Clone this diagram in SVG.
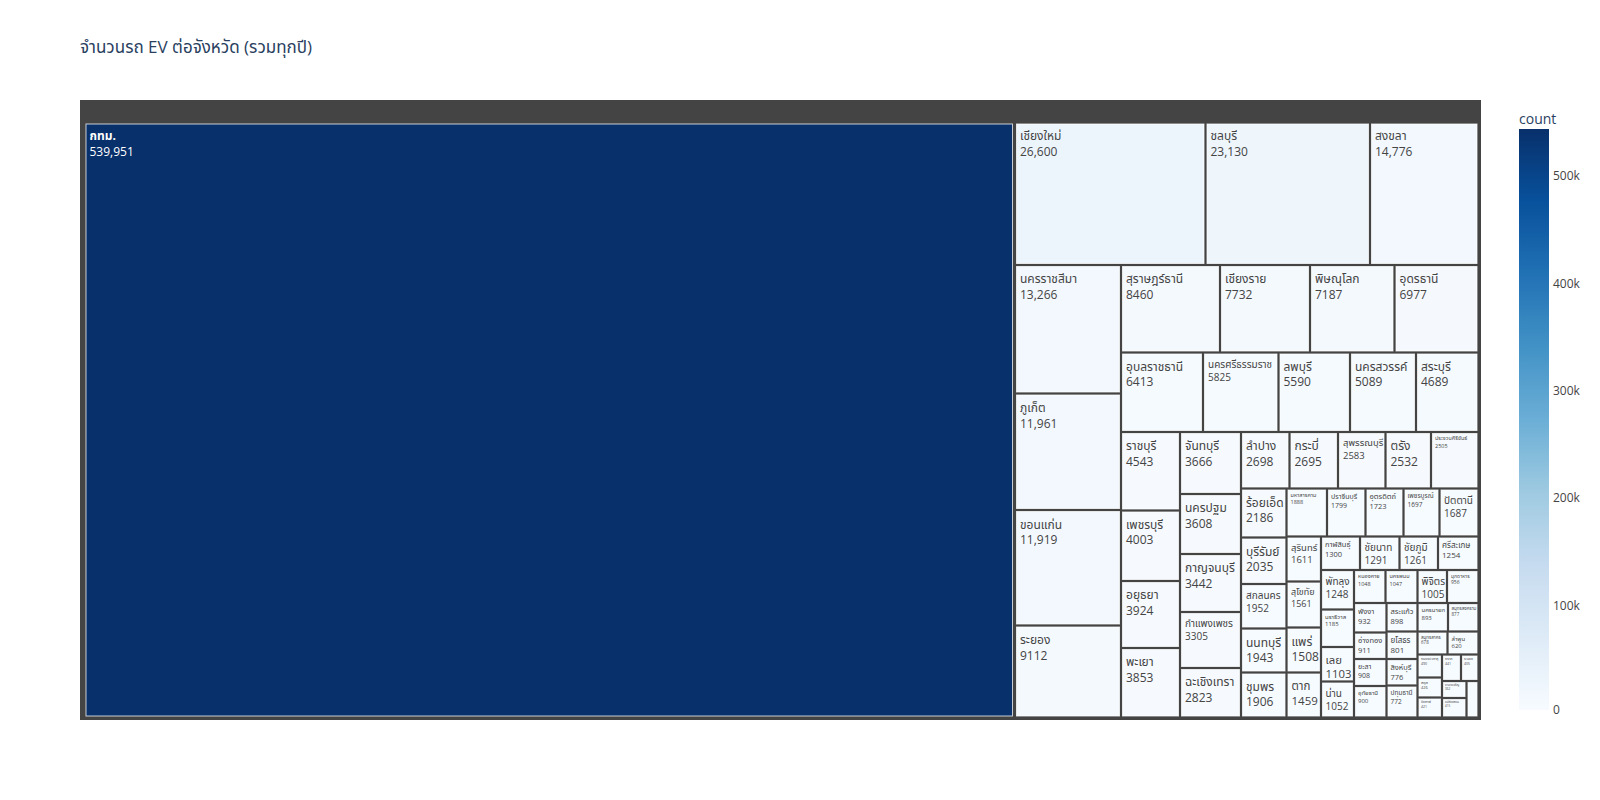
<svg xmlns="http://www.w3.org/2000/svg" width="1600" height="800" viewBox="0 0 1600 800">
<defs>
<linearGradient id="blues" x1="0" y1="1" x2="0" y2="0">
<stop offset="0" stop-color="#f7fbff"/><stop offset="0.125" stop-color="#deebf7"/><stop offset="0.25" stop-color="#c6dbef"/><stop offset="0.375" stop-color="#9ecae1"/><stop offset="0.5" stop-color="#6baed6"/><stop offset="0.625" stop-color="#4292c6"/><stop offset="0.75" stop-color="#2171b5"/><stop offset="0.875" stop-color="#08519c"/><stop offset="1" stop-color="#08306b"/>
</linearGradient>
<style>
text{font-family:"Open Sans","Noto Sans Thai","Noto Sans","DejaVu Sans",sans-serif;}
.tile{stroke:#ffffff;stroke-width:1;stroke-opacity:0.75;}
.lbl{fill:#444444;}
.w{fill:#ffffff;}
.title{fill:#2a3f5f;}
.tick{fill:#444444;}
</style>
</defs>
<rect width="1600" height="800" fill="#ffffff"/>
<text class="title" x="80" y="53" font-size="17">จำนวนรถ EV ต่อจังหวัด (รวมทุกปี)</text>
<g id="treemap" font-size="12">
<rect id="root" x="80" y="100" width="1401" height="620" fill="#444444"/>
<g id="n01"><rect class="tile" x="86" y="124" width="926.5" height="592" fill="#08306b"/><text class="lbl w" x="89.5" y="140"><tspan font-weight="bold">กทม.</tspan><tspan x="89.5" dy="1.3em">539,951</tspan></text></g>
<g id="n02"><rect class="tile" x="1016.5" y="124" width="187.5" height="139.5" fill="#edf5fc"/><text class="lbl" x="1020" y="140">เชียงใหม่<tspan x="1020" dy="1.3em">26,600</tspan></text></g>
<g id="n03"><rect class="tile" x="1207" y="124" width="161.5" height="139.5" fill="#eef6fc"/><text class="lbl" x="1210.5" y="140">ชลบุรี<tspan x="1210.5" dy="1.3em">23,130</tspan></text></g>
<g id="n04"><rect class="tile" x="1371.5" y="124" width="105.5" height="139.5" fill="#f2f8fd"/><text class="lbl" x="1375" y="140">สงขลา<tspan x="1375" dy="1.3em">14,776</tspan></text></g>
<g id="n05"><rect class="tile" x="1016.5" y="266.5" width="103" height="125.5" fill="#f2f8fd"/><text class="lbl" x="1020" y="283">นครราชสีมา<tspan x="1020" dy="1.3em">13,266</tspan></text></g>
<g id="n06"><rect class="tile" x="1016.5" y="395" width="103" height="113.5" fill="#f3f8fe"/><text class="lbl" x="1020" y="412">ภูเก็ต<tspan x="1020" dy="1.3em">11,961</tspan></text></g>
<g id="n07"><rect class="tile" x="1016.5" y="511.5" width="103" height="112.5" fill="#f3f8fe"/><text class="lbl" x="1020" y="528.5">ขอนแก่น<tspan x="1020" dy="1.3em">11,919</tspan></text></g>
<g id="n08"><rect class="tile" x="1016.5" y="627" width="103" height="89" fill="#f4f9fe"/><text class="lbl" x="1020" y="644">ระยอง<tspan x="1020" dy="1.3em">9112</tspan></text></g>
<g id="n09"><rect class="tile" x="1122.5" y="266.5" width="96" height="84.5" fill="#f4f9fe"/><text class="lbl" x="1126" y="283">สุราษฎร์ธานี<tspan x="1126" dy="1.3em">8460</tspan></text></g>
<g id="n10"><rect class="tile" x="1221.5" y="266.5" width="87" height="84.5" fill="#f4f9fe"/><text class="lbl" x="1225" y="283">เชียงราย<tspan x="1225" dy="1.3em">7732</tspan></text></g>
<g id="n11"><rect class="tile" x="1311.5" y="266.5" width="81.5" height="84.5" fill="#f4f9fe"/><text class="lbl" x="1315" y="283">พิษณุโลก<tspan x="1315" dy="1.3em">7187</tspan></text></g>
<g id="n12"><rect class="tile" x="1396" y="266.5" width="81" height="84.5" fill="#f5f9fe"/><text class="lbl" x="1399.5" y="283">อุดรธานี<tspan x="1399.5" dy="1.3em">6977</tspan></text></g>
<g id="n13"><rect class="tile" x="1122.5" y="354" width="79" height="76.5" fill="#f5fafe"/><text class="lbl" x="1126" y="370.5">อุบลราชธานี<tspan x="1126" dy="1.3em">6413</tspan></text></g>
<g id="n14"><rect class="tile" x="1204.5" y="354" width="72.5" height="76.5" fill="#f5fafe"/><text class="lbl" x="1208" y="367.5" font-size="10">นครศรีธรรมราช<tspan x="1208" dy="1.3em">5825</tspan></text></g>
<g id="n15"><rect class="tile" x="1280" y="354" width="68.5" height="76.5" fill="#f5fafe"/><text class="lbl" x="1283.5" y="370.5">ลพบุรี<tspan x="1283.5" dy="1.3em">5590</tspan></text></g>
<g id="n16"><rect class="tile" x="1351.5" y="354" width="63" height="76.5" fill="#f5fafe"/><text class="lbl" x="1355" y="370.5">นครสวรรค์<tspan x="1355" dy="1.3em">5089</tspan></text></g>
<g id="n17"><rect class="tile" x="1417.5" y="354" width="59.5" height="76.5" fill="#f5fafe"/><text class="lbl" x="1421" y="370.5">สระบุรี<tspan x="1421" dy="1.3em">4689</tspan></text></g>
<g id="n18"><rect class="tile" x="1122.5" y="433.5" width="56" height="75.5" fill="#f6fafe"/><text class="lbl" x="1126" y="450">ราชบุรี<tspan x="1126" dy="1.3em">4543</tspan></text></g>
<g id="n19"><rect class="tile" x="1122.5" y="512" width="56" height="67.5" fill="#f6fafe"/><text class="lbl" x="1126" y="528.5">เพชรบุรี<tspan x="1126" dy="1.3em">4003</tspan></text></g>
<g id="n20"><rect class="tile" x="1122.5" y="582.5" width="56" height="64" fill="#f6fafe"/><text class="lbl" x="1126" y="599">อยุธยา<tspan x="1126" dy="1.3em">3924</tspan></text></g>
<g id="n21"><rect class="tile" x="1122.5" y="649.5" width="56" height="66.5" fill="#f6fafe"/><text class="lbl" x="1126" y="666">พะเยา<tspan x="1126" dy="1.3em">3853</tspan></text></g>
<g id="n22"><rect class="tile" x="1181.5" y="433.5" width="58" height="59" fill="#f6fafe"/><text class="lbl" x="1185" y="450">จันทบุรี<tspan x="1185" dy="1.3em">3666</tspan></text></g>
<g id="n23"><rect class="tile" x="1181.5" y="495.5" width="58" height="57" fill="#f6fafe"/><text class="lbl" x="1185" y="512">นครปฐม<tspan x="1185" dy="1.3em">3608</tspan></text></g>
<g id="n24"><rect class="tile" x="1181.5" y="555.5" width="58" height="55" fill="#f6fafe"/><text class="lbl" x="1185" y="572">กาญจนบุรี<tspan x="1185" dy="1.3em">3442</tspan></text></g>
<g id="n25"><rect class="tile" x="1181.5" y="613.5" width="58" height="53" fill="#f6fafe"/><text class="lbl" x="1185" y="627" font-size="10">กำแพงเพชร<tspan x="1185" dy="1.3em">3305</tspan></text></g>
<g id="n26"><rect class="tile" x="1181.5" y="669.5" width="58" height="46.5" fill="#f6fafe"/><text class="lbl" x="1185" y="686">ฉะเชิงเทรา<tspan x="1185" dy="1.3em">2823</tspan></text></g>
<g id="n27"><rect class="tile" x="1242.5" y="433.5" width="45.5" height="53.5" fill="#f6fafe"/><text class="lbl" x="1246" y="450">ลำปาง<tspan x="1246" dy="1.3em">2698</tspan></text></g>
<g id="n28"><rect class="tile" x="1291" y="433.5" width="45.5" height="53.5" fill="#f6fafe"/><text class="lbl" x="1294.5" y="450">กระบี่<tspan x="1294.5" dy="1.3em">2695</tspan></text></g>
<g id="n29"><rect class="tile" x="1339.5" y="433.5" width="44.5" height="53.5" fill="#f6fafe"/><text class="lbl" x="1343" y="446.4" font-size="9.5">สุพรรณบุรี<tspan x="1343" dy="1.3em">2583</tspan></text></g>
<g id="n30"><rect class="tile" x="1387" y="433.5" width="42.5" height="53.5" fill="#f6fafe"/><text class="lbl" x="1390.5" y="450">ตรัง<tspan x="1390.5" dy="1.3em">2532</tspan></text></g>
<g id="n31"><rect class="tile" x="1432.5" y="433.5" width="44.5" height="53.5" fill="#f6fafe"/><text class="lbl" x="1435" y="440.4" font-size="5.5">ประจวบคีรีขันธ์<tspan x="1435" dy="1.3em">2505</tspan></text></g>
<g id="n32"><rect class="tile" x="1242.5" y="490" width="42.5" height="46" fill="#f6fafe"/><text class="lbl" x="1246" y="506.5">ร้อยเอ็ด<tspan x="1246" dy="1.3em">2186</tspan></text></g>
<g id="n33"><rect class="tile" x="1242.5" y="539" width="42.5" height="43.5" fill="#f6fafe"/><text class="lbl" x="1246" y="555.5">บุรีรัมย์<tspan x="1246" dy="1.3em">2035</tspan></text></g>
<g id="n34"><rect class="tile" x="1242.5" y="585.5" width="42.5" height="41.5" fill="#f6fbff"/><text class="lbl" x="1246" y="599" font-size="10">สกลนคร<tspan x="1246" dy="1.3em">1952</tspan></text></g>
<g id="n35"><rect class="tile" x="1242.5" y="630" width="42.5" height="41" fill="#f6fbff"/><text class="lbl" x="1246" y="646.5">นนทบุรี<tspan x="1246" dy="1.3em">1943</tspan></text></g>
<g id="n36"><rect class="tile" x="1242.5" y="674" width="42.5" height="42" fill="#f6fbff"/><text class="lbl" x="1246" y="690.5">ชุมพร<tspan x="1246" dy="1.3em">1906</tspan></text></g>
<g id="n37"><rect class="tile" x="1288" y="490" width="37.5" height="45" fill="#f6fbff"/><text class="lbl" x="1290.5" y="496.9" font-size="5.5">มหาสารคาม<tspan x="1290.5" dy="1.3em">1888</tspan></text></g>
<g id="n38"><rect class="tile" x="1328.5" y="490" width="35.5" height="45" fill="#f6fbff"/><text class="lbl" x="1331" y="498.8" font-size="7">ปราจีนบุรี<tspan x="1331" dy="1.3em">1799</tspan></text></g>
<g id="n39"><rect class="tile" x="1367" y="490" width="35" height="45" fill="#f6fbff"/><text class="lbl" x="1369.5" y="499.4" font-size="7.5">อุตรดิตถ์<tspan x="1369.5" dy="1.3em">1723</tspan></text></g>
<g id="n40"><rect class="tile" x="1405" y="490" width="33" height="45" fill="#f6fbff"/><text class="lbl" x="1407.5" y="498.1" font-size="6.5">เพชรบูรณ์<tspan x="1407.5" dy="1.3em">1697</tspan></text></g>
<g id="n41"><rect class="tile" x="1441" y="490" width="36" height="45" fill="#f6fbff"/><text class="lbl" x="1444" y="503.5" font-size="10">ปัตตานี<tspan x="1444" dy="1.3em">1687</tspan></text></g>
<g id="n42"><rect class="tile" x="1288" y="538" width="31.5" height="42" fill="#f6fbff"/><text class="lbl" x="1291" y="550.9" font-size="9.5">สุรินทร์<tspan x="1291" dy="1.3em">1611</tspan></text></g>
<g id="n43"><rect class="tile" x="1288" y="583" width="31.5" height="43" fill="#f6fbff"/><text class="lbl" x="1291" y="595.3" font-size="9">สุโขทัย<tspan x="1291" dy="1.3em">1561</tspan></text></g>
<g id="n44"><rect class="tile" x="1288" y="629" width="31.5" height="42" fill="#f6fbff"/><text class="lbl" x="1291.5" y="645.5">แพร่<tspan x="1291.5" dy="1.3em">1508</tspan></text></g>
<g id="n45"><rect class="tile" x="1288" y="674" width="31.5" height="42" fill="#f6fbff"/><text class="lbl" x="1291.5" y="689.8" font-size="11.5">ตาก<tspan x="1291.5" dy="1.3em">1459</tspan></text></g>
<g id="n46"><rect class="tile" x="1322.5" y="538" width="36" height="30.5" fill="#f6fbff"/><text class="lbl" x="1325" y="547.4" font-size="7.5">กาฬสินธุ์<tspan x="1325" dy="1.3em">1300</tspan></text></g>
<g id="n47"><rect class="tile" x="1361.5" y="538" width="36.5" height="30.5" fill="#f6fbff"/><text class="lbl" x="1364.5" y="551" font-size="10">ชัยนาท<tspan x="1364.5" dy="1.3em">1291</tspan></text></g>
<g id="n48"><rect class="tile" x="1401" y="538" width="35.5" height="30.5" fill="#f6fbff"/><text class="lbl" x="1404" y="551" font-size="10">ชัยภูมิ<tspan x="1404" dy="1.3em">1261</tspan></text></g>
<g id="n49"><rect class="tile" x="1439.5" y="538" width="37.5" height="30.5" fill="#f6fbff"/><text class="lbl" x="1442" y="548" font-size="8">ศรีสะเกษ<tspan x="1442" dy="1.3em">1254</tspan></text></g>
<g id="n50"><rect class="tile" x="1322.5" y="571.5" width="30" height="36.5" fill="#f6fbff"/><text class="lbl" x="1325.5" y="585" font-size="10">พัทลุง<tspan x="1325.5" dy="1.3em">1248</tspan></text></g>
<g id="n51"><rect class="tile" x="1322.5" y="611" width="30" height="34.5" fill="#f6fbff"/><text class="lbl" x="1325" y="618.5" font-size="6">นราธิวาส<tspan x="1325" dy="1.3em">1185</tspan></text></g>
<g id="n52"><rect class="tile" x="1322.5" y="648.5" width="30" height="31.5" fill="#f6fbff"/><text class="lbl" x="1325.5" y="663.5" font-size="11.3">เลย<tspan x="1325.5" dy="1.3em">1103</tspan></text></g>
<g id="n53"><rect class="tile" x="1322.5" y="683" width="30" height="33" fill="#f6fbff"/><text class="lbl" x="1325.5" y="696.5" font-size="10">น่าน<tspan x="1325.5" dy="1.3em">1052</tspan></text></g>
<g id="n54"><rect class="tile" x="1355.5" y="571.5" width="28.5" height="30" fill="#f6fbff"/><text class="lbl" x="1358" y="578.4" font-size="5.5">หนองคาย<tspan x="1358" dy="1.3em">1048</tspan></text></g>
<g id="n55"><rect class="tile" x="1387" y="571.5" width="29" height="30" fill="#f6fbff"/><text class="lbl" x="1389.5" y="578.4" font-size="5.5">นครพนม<tspan x="1389.5" dy="1.3em">1047</tspan></text></g>
<g id="n56"><rect class="tile" x="1419" y="571.5" width="26.5" height="30" fill="#f6fbff"/><text class="lbl" x="1421.5" y="585" font-size="10">พิจิตร<tspan x="1421.5" dy="1.3em">1005</tspan></text></g>
<g id="n57"><rect class="tile" x="1448.5" y="571.5" width="28.5" height="30" fill="#f6fbff"/><text class="lbl" x="1451" y="577.8" font-size="5">มุกดาหาร<tspan x="1451" dy="1.3em">956</tspan></text></g>
<g id="n58"><rect class="tile" x="1355.5" y="604.5" width="29.5" height="26.5" fill="#f6fbff"/><text class="lbl" x="1358" y="613.9" font-size="7.5">พังงา<tspan x="1358" dy="1.3em">932</tspan></text></g>
<g id="n59"><rect class="tile" x="1355.5" y="634" width="29.5" height="23.5" fill="#f6fbff"/><text class="lbl" x="1358" y="643.4" font-size="7.5">อ่างทอง<tspan x="1358" dy="1.3em">911</tspan></text></g>
<g id="n60"><rect class="tile" x="1355.5" y="660.5" width="29.5" height="24" fill="#f6fbff"/><text class="lbl" x="1358" y="669.3" font-size="7">ยะลา<tspan x="1358" dy="1.3em">908</tspan></text></g>
<g id="n61"><rect class="tile" x="1355.5" y="687.5" width="29.5" height="28.5" fill="#f6fbff"/><text class="lbl" x="1358" y="695" font-size="6">อุทัยธานี<tspan x="1358" dy="1.3em">900</tspan></text></g>
<g id="n62"><rect class="tile" x="1388" y="604.5" width="28" height="25.5" fill="#f6fbff"/><text class="lbl" x="1390.5" y="613.9" font-size="7.5">สระแก้ว<tspan x="1390.5" dy="1.3em">898</tspan></text></g>
<g id="n63"><rect class="tile" x="1419" y="604.5" width="27.5" height="25.5" fill="#f6fbff"/><text class="lbl" x="1421.5" y="612" font-size="6">นครนายก<tspan x="1421.5" dy="1.3em">893</tspan></text></g>
<g id="n64"><rect class="tile" x="1449.5" y="604.5" width="27.5" height="25.5" fill="#f6fbff"/><text class="lbl" x="1451.5" y="610.1" font-size="4.5">สมุทรสงคราม<tspan x="1451.5" dy="1.3em">877</tspan></text></g>
<g id="n65"><rect class="tile" x="1388" y="633" width="28" height="24.5" fill="#f6fbff"/><text class="lbl" x="1390.5" y="643" font-size="8">ยโสธร<tspan x="1390.5" dy="1.3em">801</tspan></text></g>
<g id="n66"><rect class="tile" x="1388" y="660.5" width="28" height="23.5" fill="#f6fbff"/><text class="lbl" x="1390.5" y="669.9" font-size="7.5">สิงห์บุรี<tspan x="1390.5" dy="1.3em">776</tspan></text></g>
<g id="n67"><rect class="tile" x="1388" y="687" width="28" height="29" fill="#f6fbff"/><text class="lbl" x="1390.5" y="695.1" font-size="6.5">ปทุมธานี<tspan x="1390.5" dy="1.3em">772</tspan></text></g>
<g id="n68"><rect class="tile" x="1419" y="633" width="27" height="20" fill="#f6fbff"/><text class="lbl" x="1421" y="638.6" font-size="4.5">สมุทรสาคร<tspan x="1421" dy="1.3em">678</tspan></text></g>
<g id="n69"><rect class="tile" x="1449" y="633" width="28" height="20" fill="#f6fbff"/><text class="lbl" x="1451.5" y="640.5" font-size="6">ลำพูน<tspan x="1451.5" dy="1.3em">620</tspan></text></g>
<g id="n70"><rect class="tile" x="1419" y="656" width="21.5" height="20" fill="#f6fbff"/><text class="lbl" x="1421" y="660.4" font-size="3.5">หนองบัวลำภู<tspan x="1421" dy="1.3em">490</tspan></text></g>
<g id="n71"><rect class="tile" x="1443.5" y="656" width="16" height="23.5" fill="#f6fbff"/><text class="lbl" x="1445" y="660.4" font-size="3.5">ตราด<tspan x="1445" dy="1.3em">441</tspan></text></g>
<g id="n72"><rect class="tile" x="1462.5" y="656" width="14.5" height="23.5" fill="#f6fbff"/><text class="lbl" x="1464" y="660.4" font-size="3.5">ระนอง<tspan x="1464" dy="1.3em">405</tspan></text></g>
<g id="n73"><rect class="tile" x="1419" y="679" width="21.5" height="17" fill="#f6fbff"/><text class="lbl" x="1421" y="684" font-size="4">สตูล<tspan x="1421" dy="1.3em">426</tspan></text></g>
<g id="n74"><rect class="tile" x="1419" y="699" width="21.5" height="17" fill="#f6fbff"/><text class="lbl" x="1421" y="703.4" font-size="3.5">บึงกาฬ<tspan x="1421" dy="1.3em">421</tspan></text></g>
<g id="n75"><rect class="tile" x="1443.5" y="682.5" width="21.5" height="14" fill="#f6fbff"/><text class="lbl" x="1445" y="686.3" font-size="3">อำนาจเจริญ<tspan x="1445" dy="1.3em">362</tspan></text></g>
<g id="n76"><rect class="tile" x="1443.5" y="699.5" width="21.5" height="16.5" fill="#f6fbff"/><text class="lbl" x="1445" y="703.3" font-size="3">แม่ฮ่องสอน<tspan x="1445" dy="1.3em">415</tspan></text></g>
<g id="n77"><rect class="tile" x="1468" y="682.5" width="9" height="33.5" fill="#f6fbff"/></g>
</g>
<g id="connectors"></g>
<g id="colorbar" font-size="12">
<text x="1519" y="124" fill="#2a3f5f" font-size="14">count</text>
<rect x="1519" y="129" width="30" height="581" fill="url(#blues)"/>
<text class="tick" x="1553" y="179.6">500k</text>
<text class="tick" x="1553" y="287.8">400k</text>
<text class="tick" x="1553" y="395">300k</text>
<text class="tick" x="1553" y="502.2">200k</text>
<text class="tick" x="1553" y="609.5">100k</text>
<text class="tick" x="1553" y="713.6">0</text>
</g>
</svg>
